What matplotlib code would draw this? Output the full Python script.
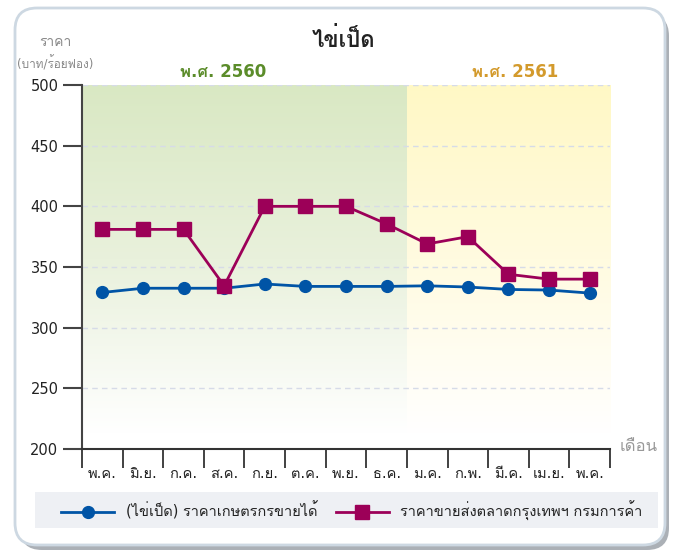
import numpy as np
import matplotlib
matplotlib.use("Agg")
import matplotlib.pyplot as plt
from matplotlib import font_manager
from matplotlib.ft2font import FT2Font
from matplotlib.patches import FancyBboxPatch, Rectangle
from matplotlib.colors import LinearSegmentedColormap

months = ["พ.ค.", "มิ.ย.", "ก.ค.", "ส.ค.", "ก.ย.", "ต.ค.", "พ.ย.",
          "ธ.ค.", "ม.ค.", "ก.พ.", "มี.ค.", "เม.ย.", "พ.ค."]
farm_price = [329, 332.5, 332.5, 332.5, 336, 334, 334, 334, 334.5, 333.5, 331.5, 331, 328.5]
wholesale_price = [381, 381, 381, 334.5, 400, 400, 400, 385.5, 369, 375, 344, 340, 340]
series_names = ["(ไข่เป็ด) ราคาเกษตรกรขายได้", "ราคาขายส่งตลาดกรุงเทพฯ กรมการค้า"]
years = ["พ.ศ. 2560", "พ.ศ. 2561"]
n_2560 = 8  # months of 2560 shown


def thai_family():
    for f in font_manager.fontManager.ttflist:
        try:
            if 0x0E44 in FT2Font(f.fname).get_charmap():
                return f.name
        except Exception:
            pass
    return "DejaVu Sans"


THAI = thai_family()
plt.rcParams["font.family"] = ["DejaVu Sans", THAI]

W, H = 677, 552
fig = plt.figure(figsize=(W / 100, H / 100), dpi=100)

# background panel in pixel coordinates
bg = fig.add_axes([0, 0, 1, 1])
bg.set_xlim(0, W)
bg.set_ylim(H, 0)
bg.axis("off")
bg.add_patch(FancyBboxPatch((20, 14), 649, 536, boxstyle="round,pad=0,rounding_size=22",
                            fc="#7f868f", ec="none", alpha=0.65))
bg.add_patch(FancyBboxPatch((15, 8), 650, 537, boxstyle="round,pad=0,rounding_size=22",
                            fc="white", ec="#cdd8e2", lw=2))
bg.add_patch(Rectangle((35, 492), 623, 36, fc="#eef0f4", ec="none"))

bg.text(344, 39, "ไข่เป็ด", ha="center", va="center", fontsize=16, fontweight="bold",
        color="#222222")
bg.text(55, 42, "ราคา", ha="center", va="center", fontsize=10, color="#888888")
bg.text(55, 64, "(บาท/ร้อยฟอง)", ha="center", va="center", fontsize=8.5, color="#888888")
bg.text(223, 72, years[0], ha="center", va="center", fontsize=12, fontweight="bold",
        color="#5b8c2a")
bg.text(515, 72, years[1], ha="center", va="center", fontsize=12, fontweight="bold",
        color="#d39a2c")
bg.text(639, 446, "เดือน", ha="center", va="center", fontsize=12, color="#999999")

ax = fig.add_axes([82 / W, 1 - 449 / H, 528 / W, 364 / H])
ax.set_facecolor("none")
x = np.arange(len(months))

# gradient shading per year
grad = np.linspace(0, 1, 256).reshape(-1, 1)
green = LinearSegmentedColormap.from_list("g", ["#ffffff", "#e9f1dc", "#d9e8c3"])
yellow = LinearSegmentedColormap.from_list("y", ["#ffffff", "#fffbe0", "#fff8c5"])
ax.imshow(grad, cmap=green, origin="lower", aspect="auto",
          extent=(-0.5, n_2560 - 0.5, 212, 500), zorder=0)
ax.imshow(grad, cmap=yellow, origin="lower", aspect="auto",
          extent=(n_2560 - 0.5, len(months) - 0.5, 212, 500), zorder=0)

for yv in range(250, 501, 50):
    ax.axhline(yv, color="#d6dbe8", lw=1, ls=(0, (4, 3)), zorder=1)

ax.plot(x, farm_price, color="#0054a6", lw=2, marker="o", ms=8.5, zorder=3,
        label=series_names[0])
ax.plot(x, wholesale_price, color="#9c0058", lw=2, marker="s", ms=10, zorder=4,
        label=series_names[1])

ax.set_xlim(-0.5, len(months) - 0.5)
ax.set_ylim(200, 500)
ax.set_yticks(range(200, 501, 50))
ax.tick_params(axis="y", length=14, width=1.5, color="#444444", labelsize=10.5,
               labelcolor="#222222", pad=3)
ax.set_xticks(np.arange(-0.5, len(months)), [])
ax.set_xticks(x, months, minor=True)
ax.tick_params(axis="x", which="major", length=14, width=1.3, color="#333333")
ax.tick_params(axis="x", which="minor", length=0, labelsize=10.5, labelcolor="#222222", pad=12)
for s in ["top", "right"]:
    ax.spines[s].set_visible(False)
ax.spines["left"].set_color("#444444")
ax.spines["left"].set_linewidth(1.5)
ax.spines["bottom"].set_color("#333333")
ax.spines["bottom"].set_linewidth(1.5)

fig.legend(loc="center", bbox_to_anchor=(352 / W, 1 - 511 / H), ncol=2, frameon=False,
           fontsize=10.5, handlelength=3.6, handletextpad=0.8, columnspacing=1.3,
           labelcolor="#222222")

fig.savefig("out.png", dpi=100)
